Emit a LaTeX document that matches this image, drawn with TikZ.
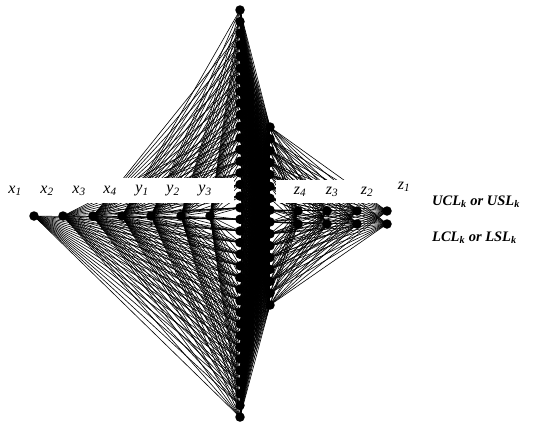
\documentclass[tikz,border=0pt]{standalone}
\usepackage{fontspec}
\setmainfont{Liberation Serif}
\newcommand{\vlab}[2]{\textit{#1}\textsubscript{\textit{#2}}}
\begin{document}
\begin{tikzpicture}[x=1pt,y=-1pt,
  dot/.style={circle,fill=black,inner sep=0pt,minimum size=9.5pt},
  edge/.style={line width=0.6pt},
  lab/.style={font=\fontsize{16}{16}\selectfont,inner sep=0pt},
  key/.style={font=\bfseries\itshape\fontsize{14.5}{15}\selectfont,inner sep=0pt,anchor=west},
  band/.style={fill=white,draw=none}]
\useasboundingbox (0,0) rectangle (538,429);
% central columns
\foreach \i in {0,...,35} \coordinate (a\i) at (240,{10+\i*11.63});
\foreach \j in {0,...,15} \coordinate (b\j) at (270,{127+\j*11.87});
% left variables
\foreach \k/\x in {1/34,2/63,3/93,4/122,5/151,6/181,7/210} \coordinate (l\k) at (\x,216);
% right variables (two levels)
\foreach \k/\x in {4/298,3/327,2/357,1/387} {
  \coordinate (u\k) at (\x,211);
  \coordinate (d\k) at (\x,224);
}
% edges A--B
\foreach \i in {0,...,35} \foreach \j in {0,...,15} \draw[edge] (a\i) -- (b\j);
% edges left -> A
\foreach \i in {18,...,35} \draw[edge] (l1) -- (a\i);
\foreach \i in {10,...,35} \draw[edge] (l2) -- (a\i);
\foreach \i in {2,...,35} \draw[edge] (l3) -- (a\i);
\foreach \k in {4,...,7} \foreach \i in {0,...,35} \draw[edge] (l\k) -- (a\i);
% edges B -> right
\foreach \j in {0,...,15} \foreach \k in {1,...,4} {
  \draw[edge] (b\j) -- (u\k);
  \draw[edge] (b\j) -- (d\k);
}
% label bands
\fill[band] (0,178) rectangle (234,203);
\fill[band] (276,180) rectangle (420,203);
% nodes
\foreach \i in {0,...,35} \node[dot] (na\i) at (a\i) {};
\foreach \j in {0,...,15} \node[dot] (nb\j) at (b\j) {};
\foreach \k in {1,...,7} \node[dot] (nl\k) at (l\k) {};
\foreach \k in {1,...,4} {
  \node[dot] (nu\k) at (u\k) {};
  \node[dot] (nd\k) at (d\k) {};
}
% labels
\node[lab] (tx1) at (15,191) {\vlab{x}{1}};
\node[lab] (tx2) at (47,191) {\vlab{x}{2}};
\node[lab] (tx3) at (79,191) {\vlab{x}{3}};
\node[lab] (tx4) at (110,191) {\vlab{x}{4}};
\node[lab] (ty1) at (142,191) {\vlab{y}{1}};
\node[lab] (ty2) at (173,191) {\vlab{y}{2}};
\node[lab] (ty3) at (205,191) {\vlab{y}{3}};
\node[lab] (tz4) at (300,192) {\vlab{z}{4}};
\node[lab] (tz3) at (332,192) {\vlab{z}{3}};
\node[lab] (tz2) at (367,192) {\vlab{z}{2}};
\node[lab] (tz1) at (404,187) {\vlab{z}{1}};
\node[key] (ucl) at (432,202) {UCL\textsubscript{k} or USL\textsubscript{k}};
\node[key] (lcl) at (432,238) {LCL\textsubscript{k} or LSL\textsubscript{k}};
\end{tikzpicture}
\end{document}
